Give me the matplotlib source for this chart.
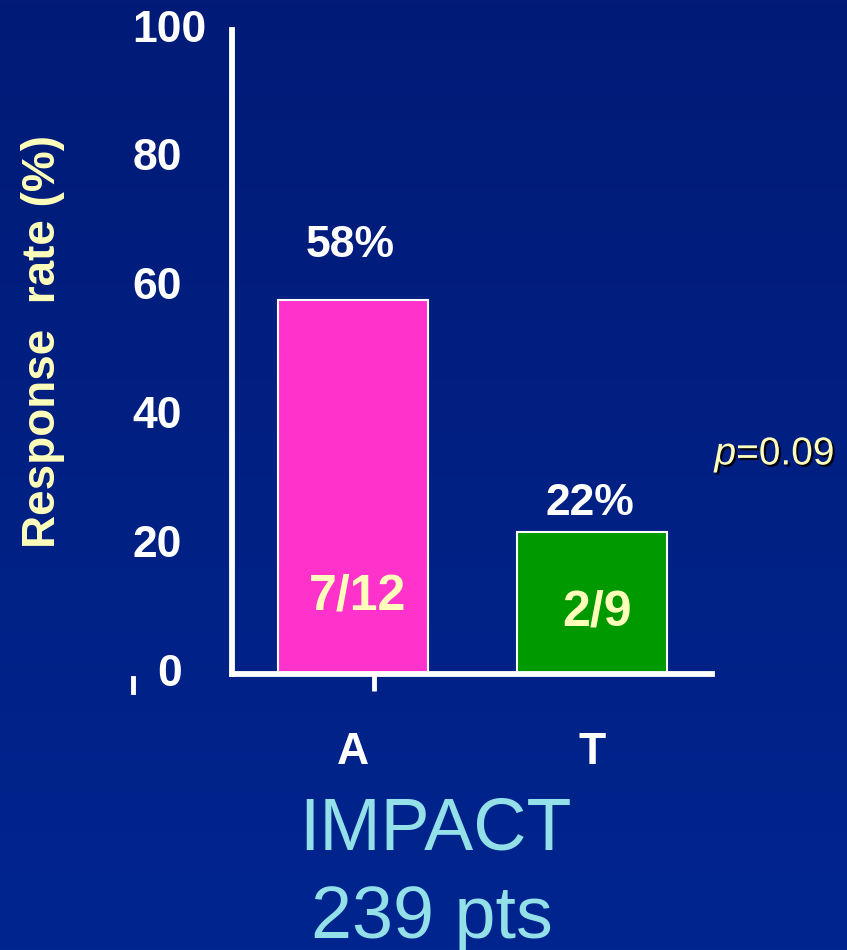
# Response rate by arm, IMPACT (239 pts)
import numpy as np
import matplotlib.pyplot as plt
import matplotlib.patheffects as pe
from matplotlib.colors import LinearSegmentedColormap
from matplotlib.lines import Line2D

# data
groups = ['A', 'T']
rates = [58, 22]
counts = ['7/12', '2/9']
pct_labels = ['58%', '22%']
bar_colors = ['#ff33cc', '#009900']
yticks = [0, 20, 40, 60, 80, 100]
p_value = '0.09'

plt.rcParams['font.family'] = ['Liberation Sans', 'DejaVu Sans']
plt.rcParams['mathtext.fontset'] = 'custom'
plt.rcParams['mathtext.it'] = 'Liberation Sans:italic'
plt.rcParams['mathtext.rm'] = 'Liberation Sans'

W, H = 847, 950
fig = plt.figure(figsize=(W / 100, H / 100), dpi=100)

# dark blue backdrop, a bit lighter at the bottom
bg = fig.add_axes([0, 0, 1, 1], zorder=-10)
cmap = LinearSegmentedColormap.from_list('bg', ['#011b77', '#00258f'])
bg.imshow(np.linspace(0, 1, 256).reshape(-1, 1), aspect='auto', cmap=cmap,
          extent=[0, 1, 0, 1])
bg.axis('off')

ax = fig.add_axes([232 / W, 1 - 674 / H, 480 / W, 644 / H])
ax.set_facecolor('none')
x = np.arange(len(groups))
ax.bar(x, rates, width=0.63, color=bar_colors, edgecolor='white',
       linewidth=1.5, zorder=2)
ax.set_xlim(-0.506, 1.502)
ax.set_ylim(0, 100)

for s in ['top', 'right']:
    ax.spines[s].set_visible(False)
for s in ['left', 'bottom']:
    ax.spines[s].set_color('white')
    ax.spines[s].set_linewidth(4.2)
    ax.spines[s].set_zorder(3)

# y tick labels drawn by hand (left aligned, like the slide)
ax.set_yticks([])
for t in yticks:
    if t == 0:
        ax.text(-0.104, t, str(t), transform=ax.get_yaxis_transform(),
                ha='right', va='center', fontsize=32, fontweight='bold',
                color='white')
    else:
        ax.text(-0.208, t, str(t), transform=ax.get_yaxis_transform(),
                ha='left', va='center', fontsize=32, fontweight='bold',
                color='white')

# stray tick mark left of the zero
fig.add_artist(Line2D([133 / W, 133 / W], [1 - 678 / H, 1 - 692 / H],
                      color='white', lw=3.5))

ax.set_xticks(x, groups)
ax.tick_params(axis='x', length=0, pad=42, labelsize=32, labelcolor='white')
for lab in ax.get_xticklabels():
    lab.set_fontweight('bold')
ax.set_xticks([0.09], minor=True)
ax.tick_params(axis='x', which='minor', length=12, width=3.5, color='white')

# percentages above, counts inside the bars
pct_y = [66.5, 26.5]
for xi, lab, py in zip(x, pct_labels, pct_y):
    ax.text(xi - 0.01, py, lab, ha='center', va='center', fontsize=32,
            fontweight='bold', color='white')
count_y = [12, 9.5]
for xi, lab, cy in zip(x, counts, count_y):
    ax.text(xi + 0.02, cy, lab, ha='center', va='center', fontsize=36,
            fontweight='bold', color='#ffffbb', zorder=4)

fig.text(43 / W, 1 - 342 / H, 'Response  rate (%)', rotation=90,
         ha='center', va='center', fontsize=33, fontweight='bold',
         color='#ffffbb')

fig.text(775 / W, 1 - 455 / H, '$p$=' + p_value, ha='center', va='center',
         fontsize=28, color='#ffffbb',
         path_effects=[pe.withSimplePatchShadow(offset=(1.5, -1.5),
                                                shadow_rgbFace='black',
                                                alpha=0.9)])

fig.text(435 / W, 1 - 849 / H, 'IMPACT', ha='center', va='baseline',
         fontsize=53, color='#94e0e8')
fig.text(432 / W, 1 - 938 / H, '239 pts', ha='center', va='baseline',
         fontsize=53, color='#94e0e8')

fig.savefig('out.png', dpi=100)
